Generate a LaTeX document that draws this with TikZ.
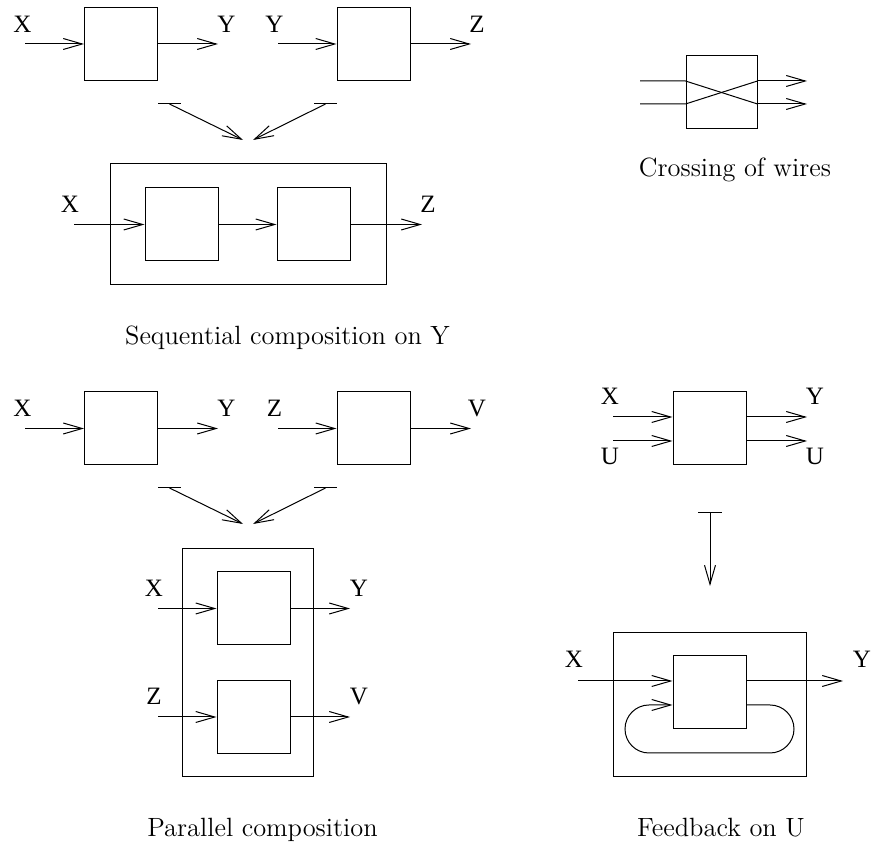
\documentclass[tikz,border=0pt]{standalone}
\usepackage{fontspec}
\newfontfamily\lbl{Liberation Serif}
\usetikzlibrary{arrows.meta,calc}
\begin{document}
\begin{tikzpicture}[x=0.5pt,y=-0.5pt,
  wire/.style={line width=0.5pt},
  arr/.style={wire,-{Straight Barb[length=9.5pt,width=5.5pt,line width=0.5pt]}},
  blk/.style={draw,line width=0.5pt,minimum width=36.5pt,minimum height=36.5pt,inner sep=0pt},
  frame/.style={draw,line width=0.5pt,inner sep=0pt},
  lab/.style={anchor=base,inner sep=0pt,font=\lbl\fontsize{12.5}{15}\selectfont},
  captxt/.style={anchor=base,inner sep=0pt,font=\fontsize{13.2}{15}\selectfont},
]
\useasboundingbox (0,0) rectangle (875,849);

% ---------- Sequential composition: parts ----------
\node[blk] (A1) at (121,44) {};
\node[blk] (B1) at (373.5,44) {};
\coordinate (a1i) at (25,44);  \coordinate (a1o) at (218,44);
\coordinate (b1i) at (278,44); \coordinate (b1o) at (471,44);
\draw[arr] (a1i) -- (A1.west);
\draw[arr] (A1.east) -- (a1o);
\draw[arr] (b1i) -- (B1.west);
\draw[arr] (B1.east) -- (b1o);
\node[lab] (lx1) at (22.5,33) {X};
\node[lab] (ly1) at (226.5,33) {Y};
\node[lab] (ly2) at (274.5,33) {Y};
\node[lab] (lz1) at (477,33) {Z};
% transition
\coordinate (t1a) at (158,104); \coordinate (t1b) at (181,104);
\coordinate (t1c) at (169.5,104); \coordinate (t1d) at (243,140);
\coordinate (t2a) at (314,104); \coordinate (t2b) at (337,104);
\coordinate (t2c) at (325.5,104); \coordinate (t2d) at (253,140);
\draw[wire] (t1a) -- (t1b);
\draw[arr] (t1c) -- (t1d);
\draw[wire] (t2a) -- (t2b);
\draw[arr] (t2c) -- (t2d);
% composite
\node[frame,minimum width=138pt,minimum height=60.5pt] (S) at (248,224.5) {};
\node[blk] (S1) at (181.5,224.5) {};
\node[blk] (S2) at (313.5,224.5) {};
\coordinate (si) at (74,224.5); \coordinate (so) at (422,224.5);
\draw[arr] (si) -- (S1.west);
\draw[arr] (S1.east) -- (S2.west);
\draw[arr] (S2.east) -- (so);
\node[lab] (lx2) at (70,213) {X};
\node[lab] (lz2) at (428,213) {Z};
\node[captxt] (capS) at (287.5,345) {Sequential composition on Y};

% ---------- Crossing of wires ----------
\node[blk,minimum width=35.5pt] (C) at (721.5,92) {};
\coordinate (ci1) at (640,81);  \coordinate (ci2) at (640,104);
\coordinate (co1) at (807,81);  \coordinate (co2) at (807,104);
\draw[wire] (ci1) -- (C.west |- ci1) -- (C.east |- ci2);
\draw[wire] (ci2) -- (C.west |- ci2) -- (C.east |- ci1);
\draw[arr] (C.east |- co1) -- (co1);
\draw[arr] (C.east |- co2) -- (co2);
\node[captxt] (capC) at (735,177) {Crossing of wires};

% ---------- Parallel composition: parts ----------
\node[blk] (A2) at (121,428.5) {};
\node[blk] (B2) at (373.5,428.5) {};
\coordinate (a2i) at (25,428.5);  \coordinate (a2o) at (218,428.5);
\coordinate (b2i) at (278,428.5); \coordinate (b2o) at (471,428.5);
\draw[arr] (a2i) -- (A2.west);
\draw[arr] (A2.east) -- (a2o);
\draw[arr] (b2i) -- (B2.west);
\draw[arr] (B2.east) -- (b2o);
\node[lab] (lx3) at (22.5,417) {X};
\node[lab] (ly3) at (226.5,417) {Y};
\node[lab] (lz3) at (274.5,417) {Z};
\node[lab] (lv3) at (477,417) {V};
% transition
\coordinate (t3a) at (158,488); \coordinate (t3b) at (181,488);
\coordinate (t3c) at (169.5,488); \coordinate (t3d) at (243,524);
\coordinate (t4a) at (314,488); \coordinate (t4b) at (337,488);
\coordinate (t4c) at (325.5,488); \coordinate (t4d) at (253,524);
\draw[wire] (t3a) -- (t3b);
\draw[arr] (t3c) -- (t3d);
\draw[wire] (t4a) -- (t4b);
\draw[arr] (t4c) -- (t4d);
% composite
\node[frame,minimum width=65.5pt,minimum height=114pt] (P) at (247.5,663) {};
\node[blk] (P1) at (253.5,608.5) {};
\node[blk] (P2) at (253.5,717) {};
\coordinate (p1i) at (158,608.5); \coordinate (p1o) at (350,608.5);
\coordinate (p2i) at (158,717);   \coordinate (p2o) at (350,717);
\draw[arr] (p1i) -- (P1.west);
\draw[arr] (P1.east) -- (p1o);
\draw[arr] (p2i) -- (P2.west);
\draw[arr] (P2.east) -- (p2o);
\node[lab] (lx4) at (154,597) {X};
\node[lab] (ly4) at (359,597) {Y};
\node[lab] (lz4) at (154,705) {Z};
\node[lab] (lv4) at (359,705) {V};
\node[captxt] (capP) at (262.5,837) {Parallel composition};

% ---------- Feedback: part ----------
\node[blk] (F) at (709.5,428.5) {};
\coordinate (fi1) at (613,417); \coordinate (fi2) at (613,441);
\coordinate (fo1) at (807,417); \coordinate (fo2) at (807,441);
\draw[arr] (fi1) -- (F.west |- fi1);
\draw[arr] (fi2) -- (F.west |- fi2);
\draw[arr] (F.east |- fo1) -- (fo1);
\draw[arr] (F.east |- fo2) -- (fo2);
\node[lab] (lx5) at (610,405) {X};
\node[lab] (lu5) at (610,465) {U};
\node[lab] (ly5) at (815,405) {Y};
\node[lab] (lu6) at (815,465) {U};
% transition
\coordinate (t5a) at (698,513); \coordinate (t5b) at (722,513);
\coordinate (t5c) at (710,513); \coordinate (t5d) at (710,586);
\draw[wire] (t5a) -- (t5b);
\draw[arr] (t5c) -- (t5d);
% composite
\node[frame,minimum width=96.5pt,minimum height=72pt] (G) at (709.5,705) {};
\node[blk] (G1) at (709.5,692.5) {};
\coordinate (gi) at (578,681); \coordinate (go) at (843,681);
\coordinate (lp) at (709.5,705);
\draw[arr] (gi) -- (G1.west |- gi);
\draw[arr] (G1.east |- go) -- (go);
\draw[arr] (G1.east |- lp) -- (770,705)
  arc[start angle=-90,end angle=90,radius=24] -- (649,753)
  arc[start angle=90,end angle=270,radius=24] -- (G1.west |- lp);
\node[lab] (lx6) at (574,668) {X};
\node[lab] (ly6) at (862,668) {Y};
\node[captxt] (capF) at (721,837) {Feedback on U};
\end{tikzpicture}
\end{document}
